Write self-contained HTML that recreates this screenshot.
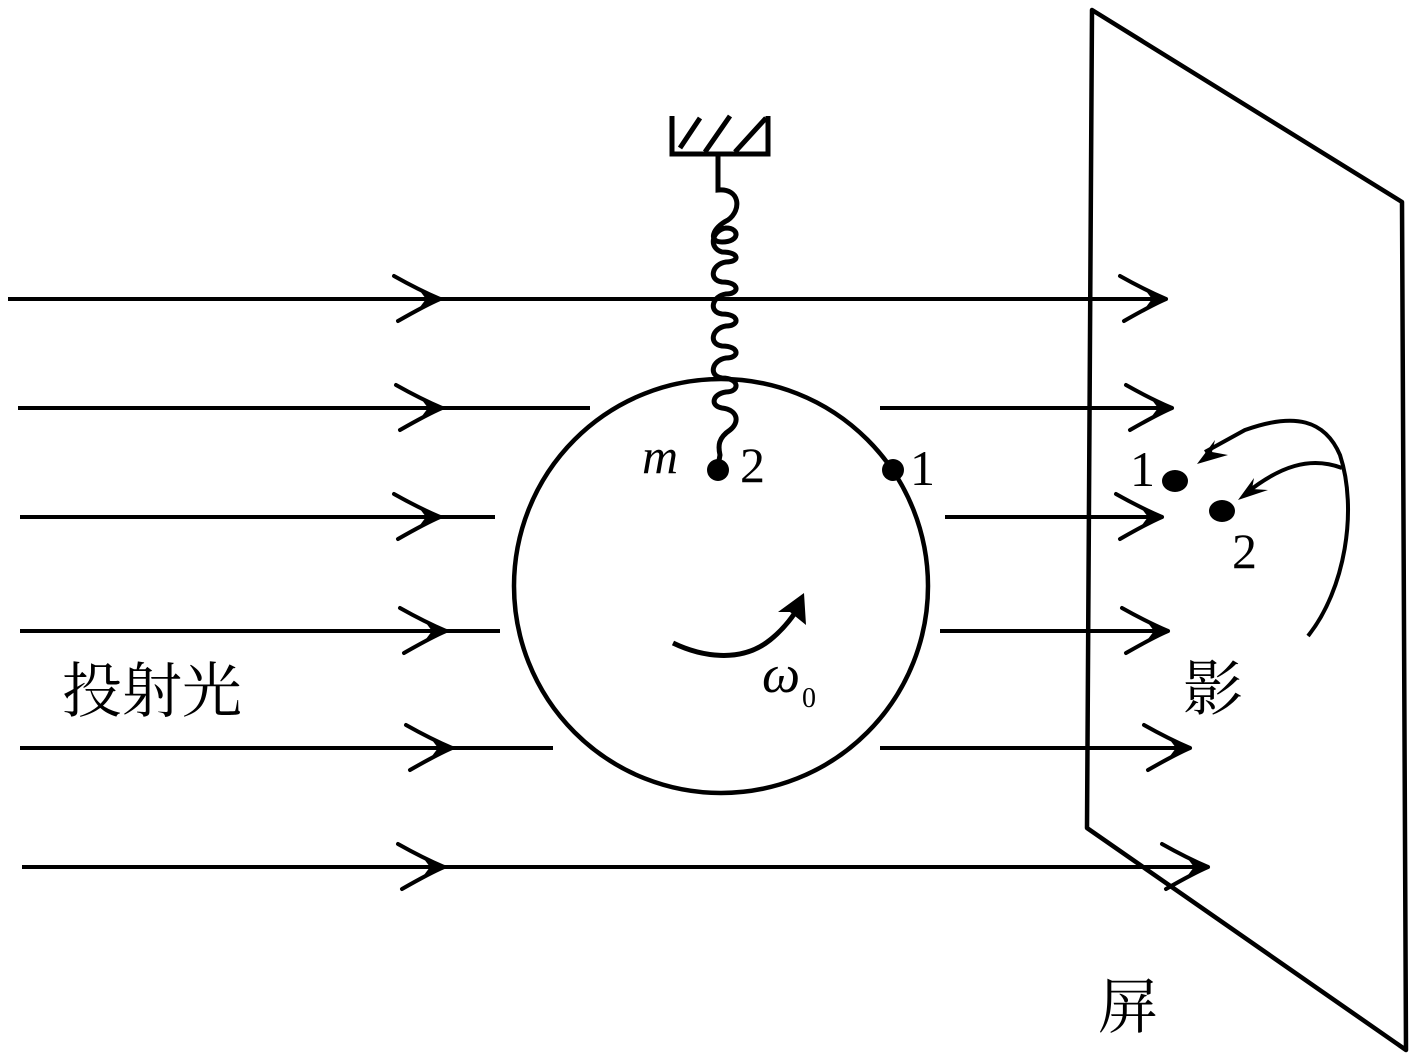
<!DOCTYPE html>
<html><head><meta charset="utf-8"><style>
html,body{margin:0;padding:0;background:#fff;}
svg{display:block;}
text{fill:#000;}
</style></head><body>
<svg width="1419" height="1064" viewBox="0 0 1419 1064" xmlns="http://www.w3.org/2000/svg">
<defs>
<g id="ah">
<path d="M0,0 C-14,-6 -30,-14 -46,-23 M0,0 C-14,6 -28,14 -42,22" stroke="#000" stroke-width="4" fill="none" stroke-linecap="round"/>
<path d="M0,0 L-20,-8 L-14,0 L-20,8 Z" fill="#000"/>
</g>
</defs>
<g stroke="#000" stroke-width="4" fill="none">
<path d="M1092,10 L1402,202 L1406,1050 L1087,828 Z" stroke-width="4.5" stroke-linejoin="round"/>
<line x1="8" y1="299" x2="1165" y2="299"/>
<line x1="18" y1="408" x2="590" y2="408"/>
<line x1="880" y1="408" x2="1170" y2="408"/>
<line x1="20" y1="517" x2="495" y2="517"/>
<line x1="945" y1="517" x2="1160" y2="517"/>
<line x1="20" y1="631" x2="500" y2="631"/>
<line x1="940" y1="631" x2="1165" y2="631"/>
<line x1="20" y1="748" x2="553" y2="748"/>
<line x1="880" y1="748" x2="1190" y2="748"/>
<line x1="22" y1="867" x2="1205" y2="867"/>
<circle cx="721" cy="586" r="207" stroke-width="4.5"/>
<path d="M672,116 L672,154 L768,154 L768,116" stroke-width="5"/>
<path d="M680,148 L700,118 M705,152 L730,116 M735,152 L766,118" stroke-width="5"/>
<path d="M718,154 L718,190 C740,188 742,210 728,220 C712,228 708,242 722,242 C740,242 740,228 726,228
 C712,230 708,248 722,252 C740,252 740,262 726,262 C712,264 708,280 722,282 C740,282 740,294 726,294
 C712,296 708,312 722,314 C740,314 740,326 726,326 C712,328 708,344 722,346 C740,346 740,358 726,358
 C712,360 708,376 722,378 C740,378 740,392 726,392 C712,394 710,406 722,408 C738,410 740,422 730,430
 C718,438 718,446 720,455 L718,466" stroke-width="5"/>
<path d="M673,643 C700,656 740,664 770,640 C785,628 795,614 800,604" stroke-width="5"/>
<path d="M1308,636 C1345,590 1358,510 1340,455 C1325,420 1295,412 1245,430 L1205,452" stroke-width="4"/>
<path d="M1342,468 C1310,456 1280,466 1245,494" stroke-width="4"/>
</g>
<path d="M804,593 L778,612 L790,612 L806,625 Z" fill="#000"/>
<g>
<use href="#ah" x="440" y="299"/>
<use href="#ah" x="1166" y="299"/>
<use href="#ah" x="442" y="408"/>
<use href="#ah" x="1172" y="408"/>
<use href="#ah" x="440" y="517"/>
<use href="#ah" x="1162" y="517"/>
<use href="#ah" x="446" y="631"/>
<use href="#ah" x="1168" y="631"/>
<use href="#ah" x="452" y="748"/>
<use href="#ah" x="1190" y="748"/>
<use href="#ah" x="444" y="867"/>
<use href="#ah" x="1208" y="867"/>
</g>
<path d="M1197,464 L1215,440 L1212,452 L1228,455 Z" fill="#000"/>
<path d="M1238,500 L1254,478 L1252,489 L1268,490 Z" fill="#000"/>
<circle cx="718" cy="470" r="11" fill="#000"/>
<circle cx="893" cy="470" r="11" fill="#000"/>
<ellipse cx="1175" cy="481" rx="13" ry="11" fill="#000"/>
<ellipse cx="1222" cy="511" rx="13" ry="11" fill="#000"/>
<g font-family="Liberation Serif, serif" font-size="50">
<text x="642" y="473" font-style="italic">m</text>
<text x="740" y="482">2</text>
<text x="910" y="485">1</text>
<text x="1130" y="486">1</text>
<text x="1232" y="568">2</text>
<text x="762" y="692" font-style="italic" font-size="54">ω</text>
<text x="802" y="707" font-size="28">0</text>
</g>
<g font-family="Liberation Serif, 'Noto Serif CJK SC', serif" font-size="60">
<text x="62" y="712">投射光</text>
<text x="1183" y="710">影</text>
<text x="1098" y="1028">屏</text>
</g>
</svg>
</body></html>
